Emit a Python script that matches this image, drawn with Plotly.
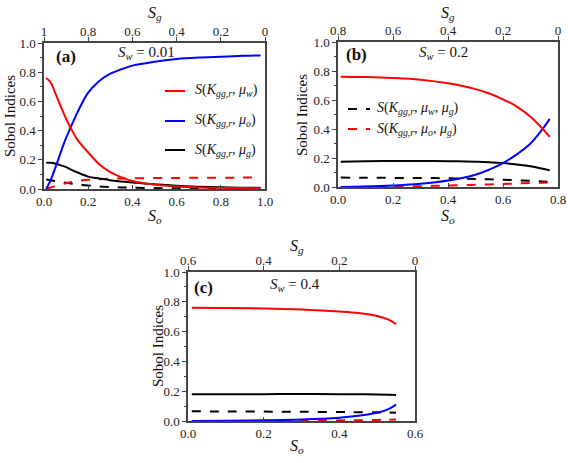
import plotly.graph_objects as go

W, H = 568, 463
FONT = "Liberation Serif, Times New Roman, Tinos, DejaVu Serif, serif"

# ---------------- data ----------------
so_a = [0.01, 0.03, 0.05, 0.08, 0.10, 0.12, 0.15, 0.20, 0.25, 0.30, 0.35, 0.40, 0.50, 0.60, 0.70, 0.80, 0.90, 0.98]
a_mu_w = [0.76, 0.73, 0.66, 0.55, 0.48, 0.42, 0.34, 0.25, 0.17, 0.115, 0.08, 0.055, 0.03, 0.017, 0.011, 0.008, 0.006, 0.005]
a_mu_o = [0.0, 0.06, 0.14, 0.27, 0.35, 0.42, 0.52, 0.66, 0.74, 0.79, 0.82, 0.845, 0.872, 0.89, 0.90, 0.906, 0.912, 0.915]
a_mu_g = [0.18, 0.18, 0.175, 0.16, 0.15, 0.135, 0.115, 0.085, 0.072, 0.06, 0.052, 0.045, 0.032, 0.022, 0.016, 0.012, 0.009, 0.008]
a_mu_wg = [0.065, 0.06, 0.055, 0.048, 0.043, 0.038, 0.032, 0.024, 0.018, 0.014, 0.011, 0.009, 0.006, 0.005, 0.004, 0.004, 0.003, 0.003]
a_mu_og = [0.0, 0.01, 0.02, 0.032, 0.04, 0.046, 0.054, 0.063, 0.067, 0.07, 0.072, 0.073, 0.075, 0.076, 0.077, 0.077, 0.078, 0.078]

so_b = [0.01, 0.10, 0.20, 0.30, 0.40, 0.50, 0.55, 0.60, 0.65, 0.70, 0.74, 0.77]
b_mu_w = [0.76, 0.758, 0.752, 0.74, 0.715, 0.675, 0.645, 0.605, 0.555, 0.485, 0.41, 0.345]
b_mu_o = [0.0, 0.003, 0.01, 0.022, 0.045, 0.085, 0.12, 0.165, 0.225, 0.30, 0.39, 0.47]
b_mu_g = [0.175, 0.177, 0.179, 0.179, 0.178, 0.174, 0.171, 0.165, 0.155, 0.143, 0.128, 0.115]
b_mu_wg = [0.065, 0.064, 0.063, 0.062, 0.06, 0.056, 0.053, 0.05, 0.046, 0.042, 0.038, 0.035]
b_mu_og = [0.0, 0.001, 0.003, 0.006, 0.01, 0.015, 0.018, 0.021, 0.024, 0.027, 0.029, 0.031]

so_c = [0.01, 0.10, 0.20, 0.30, 0.40, 0.45, 0.50, 0.53, 0.55]
c_mu_w = [0.76, 0.758, 0.755, 0.748, 0.735, 0.725, 0.705, 0.68, 0.65]
c_mu_o = [0.0, 0.002, 0.005, 0.01, 0.022, 0.035, 0.055, 0.08, 0.11]
c_mu_g = [0.18, 0.18, 0.18, 0.181, 0.18, 0.179, 0.178, 0.176, 0.174]
c_mu_wg = [0.065, 0.064, 0.063, 0.062, 0.06, 0.059, 0.058, 0.057, 0.056]
c_mu_og = [0.0, 0.0, 0.001, 0.002, 0.004, 0.005, 0.007, 0.009, 0.01]

y_ticks = [0.0, 0.2, 0.4, 0.6, 0.8, 1.0]
sg_ticks_a = ["1", "0.8", "0.6", "0.4", "0.2", "0"]
sg_ticks_b = ["0.8", "0.6", "0.4", "0.2", "0"]
sg_ticks_c = ["0.6", "0.4", "0.2", "0"]

sw_labels = ["0.01", "0.2", "0.4"]
panel_labels = ["(a)", "(b)", "(c)"]

RED, BLUE, BLACK = "#ff0000", "#0000ff", "#000000"
AX = "#444444"

fig = go.Figure()

def add_panel(xs, series, xa, ya):
    w, o, g, wg, og = series
    for vals, col, dash in [(wg, BLACK, "dash"), (og, RED, "dash"), (g, BLACK, "solid"),
                            (o, BLUE, "solid"), (w, RED, "solid")]:
        fig.add_trace(go.Scatter(x=xs, y=vals, mode="lines", xaxis=xa, yaxis=ya,
                                 line=dict(color=col, width=2, dash=dash, shape="spline"),
                                 showlegend=False, hoverinfo="skip"))

add_panel(so_a, (a_mu_w, a_mu_o, a_mu_g, a_mu_wg, a_mu_og), "x", "y")
add_panel(so_b, (b_mu_w, b_mu_o, b_mu_g, b_mu_wg, b_mu_og), "x2", "y2")
add_panel(so_c, (c_mu_w, c_mu_o, c_mu_g, c_mu_wg, c_mu_og), "x3", "y3")

# empty traces so that the top (S_g) axes are drawn
for xa, ya in [("x4", "y"), ("x5", "y2"), ("x6", "y3")]:
    fig.add_trace(go.Scatter(x=[None], y=[None], mode="lines", xaxis=xa, yaxis=ya,
                             showlegend=False, hoverinfo="skip"))

def px(x):
    return x / W

def py(y):
    return 1 - y / H

tickfont = dict(family=FONT, size=13, color="#222")

# domains (pixel -> paper)
dom = {
    "a": ([px(44), px(265)], [py(189), py(43)]),
    "b": ([px(338), px(558)], [py(187), py(42)]),
    "c": ([px(188), px(415)], [py(421), py(272)]),
}

def xaxis(domain, rng, anchor):
    return dict(domain=domain, range=rng, anchor=anchor, tickvals=[0, 0.2, 0.4, 0.6, 0.8, 1.0],
                tickformat=".1f", ticks="inside", ticklen=4, tickcolor=AX,
                showline=True, linecolor=AX, linewidth=1.5, showgrid=False, zeroline=False,
                tickfont=tickfont, automargin=False)

def yaxis(domain, anchor):
    return dict(domain=domain, range=[0, 1.0], anchor=anchor, tickvals=y_ticks, tickformat=".1f",
                ticks="outside", ticklen=4, tickcolor=AX, showline=True, linecolor=AX,
                linewidth=1.5, mirror=True, showgrid=False, zeroline=False, tickfont=tickfont,
                automargin=False,
                minor=dict(dtick=0.1, ticks="outside", ticklen=2, tickcolor=AX))

def topaxis(over, anchor, rng, labels):
    vals = [float(t) for t in labels]
    return dict(overlaying=over, anchor=anchor, side="top", range=rng, tickvals=vals,
                ticktext=labels, ticks="outside", ticklen=4, tickcolor=AX, showline=True,
                linecolor=AX, linewidth=1.5, showgrid=False, zeroline=False, tickfont=tickfont,
                ticklabelstandoff=-4, automargin=False)

fig.update_layout(
    width=W, height=H, margin=dict(l=0, r=0, t=0, b=0, pad=0, autoexpand=False),
    paper_bgcolor="white", plot_bgcolor="white",
    font=dict(family=FONT, color="#111"),
    showlegend=False,
    xaxis=xaxis(dom["a"][0], [0, 1.0], "y"),
    yaxis=yaxis(dom["a"][1], "x"),
    xaxis2=xaxis(dom["b"][0], [0, 0.8], "y2"),
    yaxis2=yaxis(dom["b"][1], "x2"),
    xaxis3=xaxis(dom["c"][0], [0, 0.6], "y3"),
    yaxis3=yaxis(dom["c"][1], "x3"),
    xaxis4=topaxis("x", "y", [1.0, 0.0], sg_ticks_a),
    xaxis5=topaxis("x2", "y2", [0.8, 0.0], sg_ticks_b),
    xaxis6=topaxis("x3", "y3", [0.6, 0.0], sg_ticks_c),
)

ann = []
def text(x, y, s, size=14, xanchor="center", **kw):
    ann.append(dict(x=px(x), y=py(y), xref="paper", yref="paper", text=s, showarrow=False,
                    xanchor=xanchor, yanchor="middle",
                    font=dict(family=FONT, size=size, color="#111"), **kw))

SO = "<i>S<sub>o</sub></i>"
SG = "<i>S<sub>g</sub></i>"
# axis titles
for (xo, yo), (xg, yg), (xs, ys) in [((155, 216), (155, 14), (10, 116)),
                                     ((448, 216), (448, 13), (302, 115)),
                                     ((297, 446), (297, 246), (158, 346))]:
    text(xo, yo, SO, size=16)
    text(xg, yg, SG, size=16)
    text(xs, ys, "Sobol Indices", size=15, textangle=-90)

# panel labels and Sw
for (lx, ly), lab, (sx, sy), sw in zip([(66, 57), (356, 54), (203, 287)], panel_labels,
                                       [(146, 53), (443, 53), (295, 285)], sw_labels):
    text(lx, ly, "<b>" + lab + "</b>", size=17)
    text(sx, sy, "<i>S<sub>w</sub></i> = " + sw, size=15)

def lab(sub):
    return "<i>S</i>(<i>K</i><sub><i>gg,r</i></sub>, " + sub + ")"

MW = "<i>μ</i><sub><i>w</i></sub>"
MO = "<i>μ</i><sub><i>o</i></sub>"
MG = "<i>μ</i><sub><i>g</i></sub>"

shapes = []
# legend (a)
for yy, col, s in [(91, RED, lab(MW)), (121, BLUE, lab(MO)), (150, BLACK, lab(MG))]:
    shapes.append(dict(type="line", xref="paper", yref="paper", x0=px(165), x1=px(185),
                       y0=py(yy), y1=py(yy), line=dict(color=col, width=2)))
    text(193, yy, s, size=14, xanchor="left")
# legend (b)
for yy, col, s in [(109, BLACK, lab(MW + ", " + MG)), (129, RED, lab(MO + ", " + MG))]:
    shapes.append(dict(type="line", xref="paper", yref="paper", x0=px(348), x1=px(370),
                       y0=py(yy), y1=py(yy), line=dict(color=col, width=2, dash="dash")))
    text(375, yy, s, size=14, xanchor="left")

fig.update_layout(annotations=ann, shapes=shapes)
fig.write_html("out.html", config={"displayModeBar": False},
               post_script="document.body.style.margin='0';document.body.style.padding='0';")
